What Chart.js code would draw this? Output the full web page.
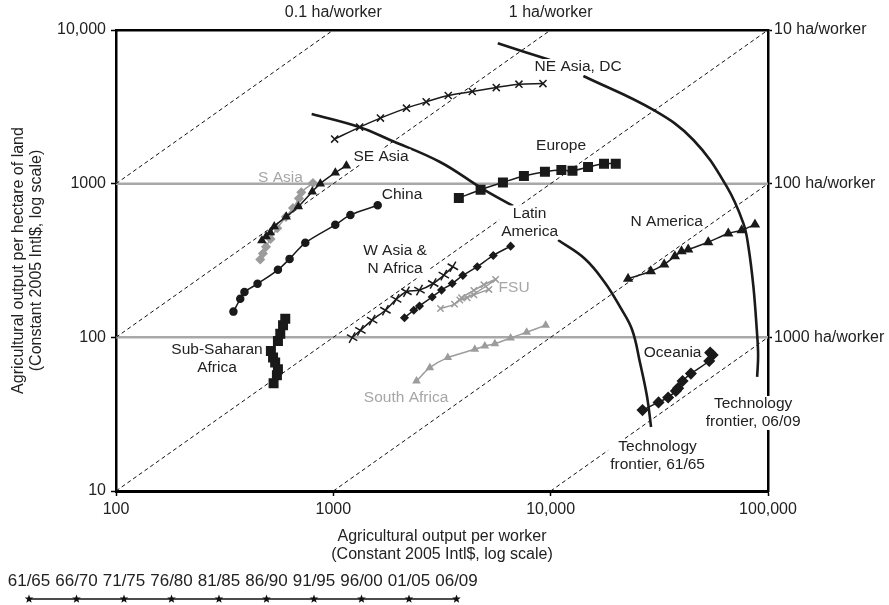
<!DOCTYPE html>
<html>
<head>
<meta charset="utf-8">
<script src="https://cdn.jsdelivr.net/npm/chart.js@4/dist/chart.umd.min.js"></script>
<style>
  html, body { margin: 0; padding: 0; background: #fff; }
  #wrap { width: 889px; height: 605px; }
</style>
</head>
<body>
<div id="wrap"><canvas id="frontierChart" width="889" height="605"></canvas></div>
<script>
// output per worker (x) and per hectare (y), one value per five-year period
const periods = ["61/65", "66/70", "71/75", "76/80", "81/85", "86/90", "91/95", "96/00", "01/05", "06/09"];

const neAsiaX = [1014, 1322, 1647, 2170, 2674, 3378, 4357, 5620, 7145, 9216];
const neAsiaY = [1951, 2335, 2671, 3101, 3407, 3745, 3976, 4220, 4440, 4480];
const europeX = [3780, 4760, 6030, 7530, 9410, 11200, 12600, 14860, 17600, 19930];
const europeY = [807, 914, 1019, 1122, 1197, 1227, 1214, 1284, 1349, 1349];
const seAsiaX = [469, 491, 513, 535, 607, 690, 800, 871, 1021, 1148];
const seAsiaY = [427, 453, 481, 526, 610, 709, 887, 1000, 1178, 1309];
const sAsiaX = [461, 474, 490, 514, 552, 605, 652, 695, 712, 806];
const sAsiaY = [321, 351, 388, 437, 513, 608, 695, 802, 878, 1010];
const chinaX = [347, 373, 390, 448, 556, 629, 743, 1021, 1198, 1600];
const chinaY = [147, 178, 197, 223, 275, 324, 412, 540, 626, 723];
const wanaX = [1220, 1332, 1508, 1736, 1945, 2170, 2491, 2880, 3224, 3547];
const wanaY = [99.5, 111, 129.5, 150, 176.5, 198, 203, 224, 254, 288];
const latamX = [2125, 2345, 2491, 2850, 3147, 3524, 3944, 4595, 5444, 6543];
const latamY = [134, 150, 160, 183, 203, 224, 253, 288, 341, 392];
const fsuX = [3112, 3611, 3890, 4431, 4928, 5579, 4131, 3820, 4431, 5195];
const fsuY = [154, 164.5, 181, 202, 220, 238, 181, 175, 189, 205];
const sAfricaX = [2413, 2779, 3363, 4479, 4980, 5538, 6543, 7752, 9484];
const sAfricaY = [52, 63.5, 73.8, 83.6, 87.8, 91, 99, 108, 120];
const ssaX = [531, 550, 556, 540, 528, 516, 556, 570, 587, 601];
const ssaY = [50.3, 56.6, 62, 68.5, 73.8, 81.5, 94.6, 105.7, 119.7, 132];
const nAmericaX = [22710, 28900, 33280, 37280, 40020, 42920, 53080, 65630, 75670, 87130];
const nAmericaY = [240.5, 269, 298, 337, 363, 373, 416, 474, 497, 542];
const oceaniaX = [26460, 31350, 34720, 37670, 38600, 40450, 44180, 53640, 55630, 54210];
const oceaniaY = [33.6, 37.7, 40.6, 44.8, 46.7, 52, 58.1, 70.2, 76.7, 79.5];

// technology frontiers (null = break where a label sits)
const frontier6165X = [795, 1313, 1824, 3097, 4819, 6714, null, 10815, 14398, 17805, 20862, 23700, 25790, 27770, 28970];
const frontier6165Y = [2840, 2337, 1924, 1384, 933, 716, null, 430, 323.6, 225.9, 157.7, 112, 68, 41, 26.1];
const frontier0609X = [5710, 9936, null, 14143, 29700, 45370, 64620, 77050, 81260, 85670, 88810, 90060, 89140];
const frontier0609Y = [8194, 6378, null, 5020, 3017, 1924, 956, 552, 389, 213.8, 111.7, 76.8, 55.3];

// land per worker guide lines (ha/worker) and grey reference levels
const isoStartX = [100, 100, 100, 1000, 10000];
const isoStartY = [1000, 100, 10, 10, 10];
const isoEndX = [1000, 10000, 100000, 100000, 100000];
const isoEndY = [10000, 10000, 10000, 1000, 100];
const refLevels = [1000, 100];

// axis ticks
const xTicks = [100, 1000, 10000, 100000];
const xTickText = ["100", "1000", "10,000", "100,000"];
const yTicks = [10, 100, 1000, 10000];
const yTickText = ["10", "100", "1000", "10,000"];
const topTicks = [1000, 10000];
const topTickText = ["0.1 ha/worker", "1 ha/worker"];
const rightTicks = [100, 1000, 10000];
const rightTickText = ["1000 ha/worker", "100 ha/worker", "10 ha/worker"];

const regionLabels = [
  { text: ["NE Asia, DC"], x: 13370, y: 5743, grey: false, bg: true },
  { text: ["Europe"], x: 11166, y: 1759, grey: false, bg: false },
  { text: ["SE Asia"], x: 1658, y: 1492, grey: false, bg: true },
  { text: ["S Asia"], x: 571, y: 1089, grey: true, bg: false },
  { text: ["China"], x: 2071, y: 844, grey: false, bg: false },
  { text: ["W Asia &", "N Africa"], x: 1923, y: 319, grey: false, bg: true },
  { text: ["Latin", "America"], x: 8000, y: 559, grey: false, bg: true },
  { text: ["FSU"], x: 6786, y: 211, grey: true, bg: false },
  { text: ["N America"], x: 34220, y: 566, grey: false, bg: false },
  { text: ["Sub-Saharan", "Africa"], x: 291.6, y: 72.9, grey: false, bg: false },
  { text: ["South Africa"], x: 2161, y: 40.6, grey: true, bg: false },
  { text: ["Oceania"], x: 36390, y: 79.7, grey: false, bg: false },
  { text: ["Technology", "frontier, 06/09"], x: 85420, y: 32.2, grey: false, bg: true },
  { text: ["Technology", "frontier, 61/65"], x: 31040, y: 16.9, grey: false, bg: true }
];

const black = "#1a1a1a";
const grey = "#9c9c9c";
const FONT = '"Liberation Sans", Arial, sans-serif';

function pts(xs, ys) {
  return xs.map((x, i) => (x === null ? { x: null, y: null } : { x: x, y: ys[i] }));
}

function series(label, xs, ys, color, style, radius, rotation) {
  return {
    label: label,
    data: pts(xs, ys),
    borderColor: color,
    backgroundColor: color,
    borderWidth: 1.5,
    pointStyle: style,
    pointRadius: radius,
    pointBorderWidth: 1.5,
    pointRotation: rotation || 0,
    tension: 0.3,
    order: 1,
  };
}

const datasets = [
  series("NE Asia, DC", neAsiaX, neAsiaY, black, "crossRot", 5),
  series("Europe", europeX, europeY, black, "rect", 6),
  series("SE Asia", seAsiaX, seAsiaY, black, "triangle", 4),
  series("S Asia", sAsiaX, sAsiaY, grey, "rectRot", 4),
  series("China", chinaX, chinaY, black, "circle", 3.5),
  series("W Asia & N Africa", wanaX, wanaY, black, "cross", 6, 30),
  series("Latin America", latamX, latamY, black, "rectRot", 3.5),
  series("FSU", fsuX, fsuY, grey, "crossRot", 4.5),
  series("South Africa", sAfricaX, sAfricaY, grey, "triangle", 3.5),
  series("Sub-Saharan Africa", ssaX, ssaY, black, "rect", 6),
  series("N America", nAmericaX, nAmericaY, black, "triangle", 4.5),
  series("Oceania", oceaniaX, oceaniaY, black, "rectRot", 5),
];

[[frontier6165X, frontier6165Y], [frontier0609X, frontier0609Y]].forEach(([fx, fy]) => {
  datasets.push({
    data: pts(fx, fy),
    borderColor: black,
    borderWidth: 2.6,
    pointRadius: 0,
    tension: 0.4,
    spanGaps: false,
    order: 2,
  });
});

isoStartX.forEach((x0, i) => {
  datasets.push({
    data: [{ x: x0, y: isoStartY[i] }, { x: isoEndX[i], y: isoEndY[i] }],
    borderColor: "#111",
    borderWidth: 1,
    borderDash: [4, 3],
    pointRadius: 0,
    order: 3,
  });
});

refLevels.forEach((lvl) => {
  datasets.push({
    data: [{ x: 100, y: lvl }, { x: 100000, y: lvl }],
    borderColor: "#a8a8a8",
    borderWidth: 2.5,
    pointRadius: 0,
    order: 4,
  });
});

function fixedTicks(values) {
  return (scale) => {
    scale.ticks = values.map((v) => ({ value: v }));
  };
}
function tickText(values, texts) {
  return (v) => {
    const i = values.indexOf(v);
    return i >= 0 ? texts[i] : "";
  };
}

function drawStar(ctx, cx, cy, r) {
  ctx.beginPath();
  for (let i = 0; i < 10; i++) {
    const rad = i % 2 === 0 ? r : r * 0.42;
    const a = -Math.PI / 2 + (i * Math.PI) / 5;
    const px = cx + rad * Math.cos(a);
    const py = cy + rad * Math.sin(a);
    if (i === 0) ctx.moveTo(px, py);
    else ctx.lineTo(px, py);
  }
  ctx.closePath();
  ctx.fill();
}

const labelPlugin = {
  id: "regionLabels",
  afterDraw(chart) {
    const { ctx } = chart;
    const xs = chart.scales.x;
    const ys = chart.scales.y;
    const lh = 18;
    ctx.save();
    ctx.font = "15.5px " + FONT;
    ctx.textAlign = "center";
    ctx.textBaseline = "middle";
    regionLabels.forEach((l) => {
      const px = xs.getPixelForValue(l.x);
      const py = ys.getPixelForValue(l.y);
      const top = py - (lh * l.text.length) / 2;
      if (l.bg) {
        const w = Math.max(...l.text.map((t) => ctx.measureText(t).width));
        ctx.fillStyle = "#fff";
        ctx.fillRect(px - w / 2 - 2, top + 1, w + 4, lh * l.text.length - 2);
      }
      ctx.fillStyle = l.grey ? "#a6a6a6" : "#222";
      l.text.forEach((t, i) => ctx.fillText(t, px, top + lh * (i + 0.5)));
    });

    // period key under the chart
    const x0 = 29, step = 47.5, textY = 581, starY = 599;
    ctx.strokeStyle = "#111";
    ctx.lineWidth = 1.5;
    ctx.beginPath();
    ctx.moveTo(x0, starY);
    ctx.lineTo(x0 + step * (periods.length - 1), starY);
    ctx.stroke();
    ctx.font = "17px " + FONT;
    periods.forEach((p, i) => {
      const cx = x0 + step * i;
      ctx.fillStyle = "#222";
      ctx.fillText(p, cx, textY);
      ctx.fillStyle = "#111";
      drawStar(ctx, cx, starY, 4.5);
    });
    ctx.restore();
  },
};

const tickFont = { family: FONT, size: 16 };
const titleFont = { family: FONT, size: 16, lineHeight: 1.15 };

new Chart(document.getElementById("frontierChart"), {
  type: "line",
  data: { datasets: datasets },
  options: {
    responsive: false,
    animation: false,
    events: [],
    parsing: true,
    layout: { padding: 0 },
    plugins: { legend: { display: false }, tooltip: { enabled: false } },
    scales: {
      x: {
        type: "logarithmic",
        position: "bottom",
        min: 100,
        max: 100000,
        afterBuildTicks: fixedTicks(xTicks),
        afterFit: (s) => { s.height = 114; },
        ticks: { callback: tickText(xTicks, xTickText), font: tickFont, color: "#222", padding: 4, maxRotation: 0, autoSkip: false },
        grid: { display: true, drawOnChartArea: false, drawTicks: true, tickLength: 5, tickColor: "#000", tickWidth: 1.5 },
        border: { display: true, color: "#000", width: 3 },
        title: {
          display: true,
          text: ["Agricultural output per worker", "(Constant 2005 Intl$, log scale)"],
          font: titleFont,
          color: "#222",
          padding: { top: 0, bottom: 41 },
        },
      },
      x2: {
        type: "logarithmic",
        axis: "x",
        position: "top",
        min: 100,
        max: 100000,
        afterBuildTicks: fixedTicks(topTicks),
        afterFit: (s) => { s.height = 30; },
        ticks: { callback: tickText(topTicks, topTickText), font: tickFont, color: "#222", padding: 8, maxRotation: 0, autoSkip: false },
        grid: { display: true, drawOnChartArea: false, drawTicks: false },
        border: { display: true, color: "#000", width: 2.5 },
      },
      y: {
        type: "logarithmic",
        position: "left",
        min: 10,
        max: 10000,
        afterBuildTicks: fixedTicks(yTicks),
        afterFit: (s) => { s.width = 116; },
        ticks: { callback: tickText(yTicks, yTickText), font: tickFont, color: "#222", padding: 5, autoSkip: false },
        grid: { display: true, drawOnChartArea: false, drawTicks: true, tickLength: 5, tickColor: "#000", tickWidth: 1.5 },
        border: { display: true, color: "#000", width: 2.5 },
        title: {
          display: true,
          text: ["Agricultural output per hectare of land", "(Constant 2005 Intl$, log scale)"],
          font: titleFont,
          color: "#222",
          padding: { top: 9, bottom: 0 },
        },
      },
      y2: {
        type: "logarithmic",
        axis: "y",
        position: "right",
        min: 10,
        max: 10000,
        afterBuildTicks: fixedTicks(rightTicks),
        afterFit: (s) => { s.width = 121; },
        ticks: { callback: tickText(rightTicks, rightTickText), font: tickFont, color: "#222", padding: 2, autoSkip: false },
        grid: { display: true, drawOnChartArea: false, drawTicks: true, tickLength: 4, tickColor: "#000", tickWidth: 1.5 },
        border: { display: true, color: "#000", width: 2.5 },
      },
    },
  },
  plugins: [labelPlugin],
});
</script>
</body>
</html>
